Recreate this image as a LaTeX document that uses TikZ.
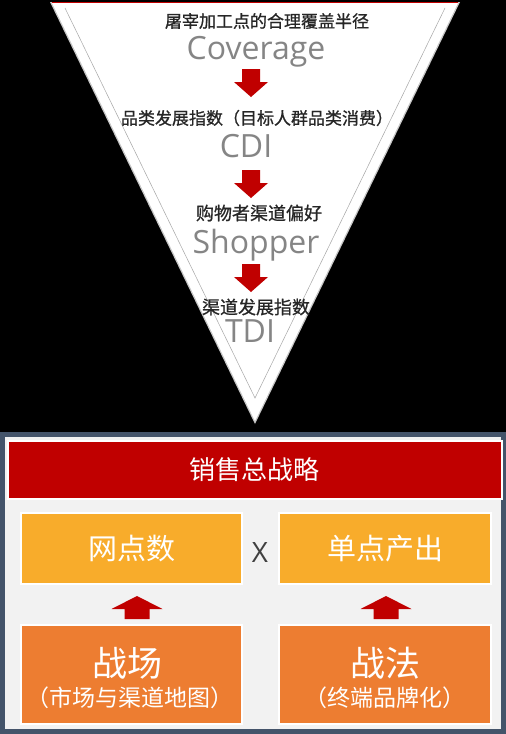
\documentclass[tikz,border=0pt]{standalone}
\usepackage{fontspec}
\newfontfamily\cjk{Noto Sans CJK SC}
\newfontfamily\cjkb{Noto Sans CJK SC}[FakeBold=0.8]
\newfontfamily\lat{Open Sans}
\definecolor{arrred}{HTML}{C00000}
\definecolor{hdrred}{HTML}{C00000}
\definecolor{slate}{HTML}{44546A}
\definecolor{panel}{HTML}{F2F2F2}
\definecolor{ybox}{HTML}{F8AC2B}
\definecolor{obox}{HTML}{ED7D31}
\definecolor{engray}{HTML}{858585}
\definecolor{cjkdark}{HTML}{262626}
\begin{document}
\begin{tikzpicture}[x=1pt,y=-1pt,
  cntext/.style={font=\cjkb\fontsize{17}{20}\selectfont, text=cjkdark, inner sep=0pt},
  entext/.style={font=\lat\fontsize{32}{36}\selectfont, text=engray, inner sep=0pt, anchor=base},
  boxstyle/.style={draw=white, line width=1.5pt, inner sep=0pt},
  yellowbox/.style={boxstyle, fill=ybox, minimum width=221pt, minimum height=71pt,
    text=white, font=\cjk\fontsize{29}{32}\selectfont},
  orangebox/.style={boxstyle, fill=obox, minimum width=221pt, minimum height=99pt},
  bigtitle/.style={text=white, inner sep=0pt, font=\cjk\fontsize{35}{40}\selectfont},
  subtitle/.style={text=white, inner sep=0pt, font=\cjk\fontsize{23}{26}\selectfont},
  downarr/.pic={\fill[arrred] (-9,0) -- (9,0) -- (9,13) -- (17,13) -- (0,28) -- (-17,13) -- (-9,13) -- cycle;},
  uparr/.pic={\fill[arrred] (-12.5,23) -- (12.5,23) -- (12.5,13) -- (25.5,13) -- (0,0) -- (-25.5,13) -- (-12.5,13) -- cycle;}
]
\useasboundingbox (0,0) rectangle (506,734);
\fill[black] (0,0) rectangle (506,734);

% funnel triangle
\fill[gray!45] (50,2) -- (460,2) -- (255,424) -- cycle;
\fill[white] (52,3) -- (458,3) -- (255,421) -- cycle;
\draw[arrred, line width=1.2pt] (52,2.5) -- (458,2.5);
\coordinate (tipin) at (255,398);
\coordinate (tl) at (65,8);
\coordinate (tr) at (445,8);
\draw[gray!70, line width=0.5pt] (tl) -- (tipin) -- (tr);

\node[cntext] (c1) at (267,21) {屠宰加工点的合理覆盖半径};
\node[entext] (e1) at (256,59) {Coverage};
\pic at (251,69) {downarr};
\node[cntext] (c2) at (257,118) {品类发展指数（目标人群品类消费）};
\node[entext] (e2) at (246,157) {CDI};
\pic at (251,170) {downarr};
\node[cntext, font=\cjkb\fontsize{18}{20}\selectfont] (c3) at (259,213) {购物者渠道偏好};
\node[entext] (e3) at (256,253) {Shopper};
\pic at (251,264) {downarr};
\node[cntext, font=\cjkb\fontsize{18}{20}\selectfont] (c4) at (256,307) {渠道发展指数};
\node[entext] (e4) at (250,342) {TDI};

% bottom panel
\fill[slate] (0,432) rectangle (506,734);
\fill[panel] (5,437) rectangle (501,729);
\node[draw=white, line width=2pt, fill=hdrred, minimum width=494pt, minimum height=58pt,
  text=white, font=\cjk\fontsize{26}{30}\selectfont, inner sep=0pt] (hdr) at (254.5,469.5) {销售总战略};

\node[yellowbox] (net) at (131.5,548.5) {网点数};
\node[yellowbox, minimum width=212pt] (out) at (385,548.5) {单点产出};
\node[font=\lat\fontsize{28}{30}\selectfont, text=black!75, inner sep=0pt] (x) at (260,552) {X};

\node[orangebox] (field) at (131.5,674.5) {};
\node[bigtitle] (fieldt) at (127,663) {战场};
\node[subtitle] (fields) at (130,698) {（市场与渠道地图）};
\node[orangebox, minimum width=212pt] (tact) at (385,674.5) {};
\node[bigtitle] (tactt) at (385,663) {战法};
\node[subtitle] (tacts) at (385,698) {（终端品牌化）};

\pic at (137,596) {uparr};
\pic at (386,596) {uparr};
\end{tikzpicture}
\end{document}
